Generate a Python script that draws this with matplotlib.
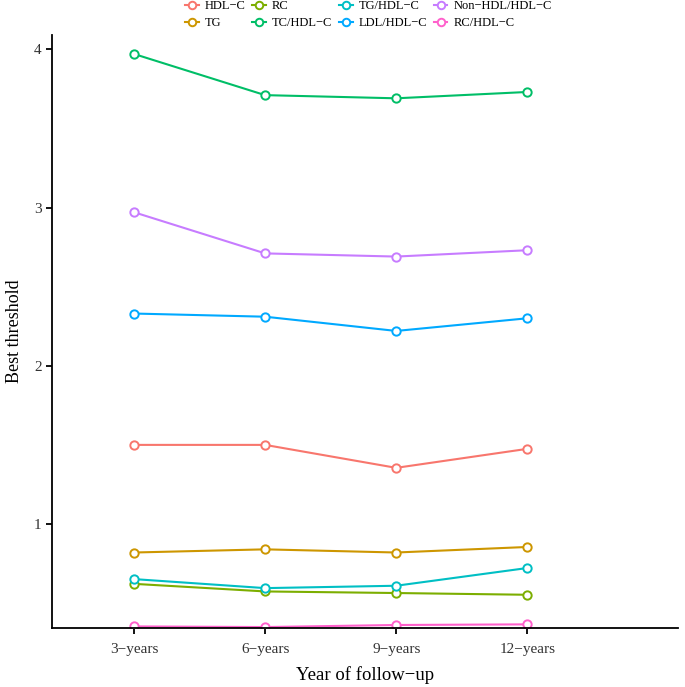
import matplotlib
matplotlib.use("Agg")
import matplotlib.pyplot as plt

plt.rcParams['font.family'] = ['Liberation Serif', 'DejaVu Serif']

years = ["3\u2212years", "6\u2212years", "9\u2212years", "12\u2212years"]
names = ["HDL\u2212C", "TG", "RC", "TC/HDL\u2212C", "TG/HDL\u2212C",
         "LDL/HDL\u2212C", "Non\u2212HDL/HDL\u2212C", "RC/HDL\u2212C"]
colors = ["#F8766D", "#CD9600", "#7CAE00", "#00BE67", "#00BFC4",
          "#00A9FF", "#C77CFF", "#FF61CC"]

hdl_c = [1.50, 1.50, 1.355, 1.475]
tg = [0.82, 0.84, 0.82, 0.855]
rc = [0.622, 0.574, 0.564, 0.553]
tc_hdl = [3.97, 3.71, 3.69, 3.73]
tg_hdl = [0.652, 0.595, 0.61, 0.722]
ldl_hdl = [2.33, 2.31, 2.22, 2.30]
nonhdl_hdl = [2.97, 2.71, 2.69, 2.73]
rc_hdl = [0.353, 0.349, 0.362, 0.366]

series = [hdl_c, tg, rc, tc_hdl, tg_hdl, ldl_hdl, nonhdl_hdl, rc_hdl]

fig = plt.figure(figsize=(6.85, 6.87), dpi=100)
ax = fig.add_axes([52/685, 1-628/687, (678-52)/685, (628-35)/687])

x = list(range(1, len(years)+1))
for name, vals, c in zip(names, series, colors):
    ax.plot(x, vals, color=c, lw=1.5, marker='o', ms=6, mfc='white',
            mec=c, mew=1.4, label=name)

ax.set_xlim(0.374, 5.15)
ax.set_ylim(0.343, 4.09)
ax.set_xticks(x)
ax.set_xticklabels(years, fontsize=11)
ax.set_yticks([1, 2, 3, 4])
ax.set_yticklabels(["1", "2", "3", "4"], fontsize=11)
for s in ['top', 'right']:
    ax.spines[s].set_visible(False)
for s in ['left', 'bottom']:
    ax.spines[s].set_linewidth(1.3)
ax.tick_params(axis='both', length=4, width=1.3, color='black', labelcolor='#333333')
ax.tick_params(axis='x', pad=7)
ax.set_xlabel("Year of follow\u2212up", fontsize=13.5, labelpad=7)
ax.set_ylabel("Best threshold", fontsize=13, labelpad=8)

fig.legend(loc='upper center', bbox_to_anchor=(0.538, 1.009), ncol=4, frameon=False,
           fontsize=9, handlelength=1.1, columnspacing=0.5, handletextpad=0.5,
           labelspacing=0.42, borderpad=0, markerscale=0.9)

fig.savefig("out.png", dpi=100)
